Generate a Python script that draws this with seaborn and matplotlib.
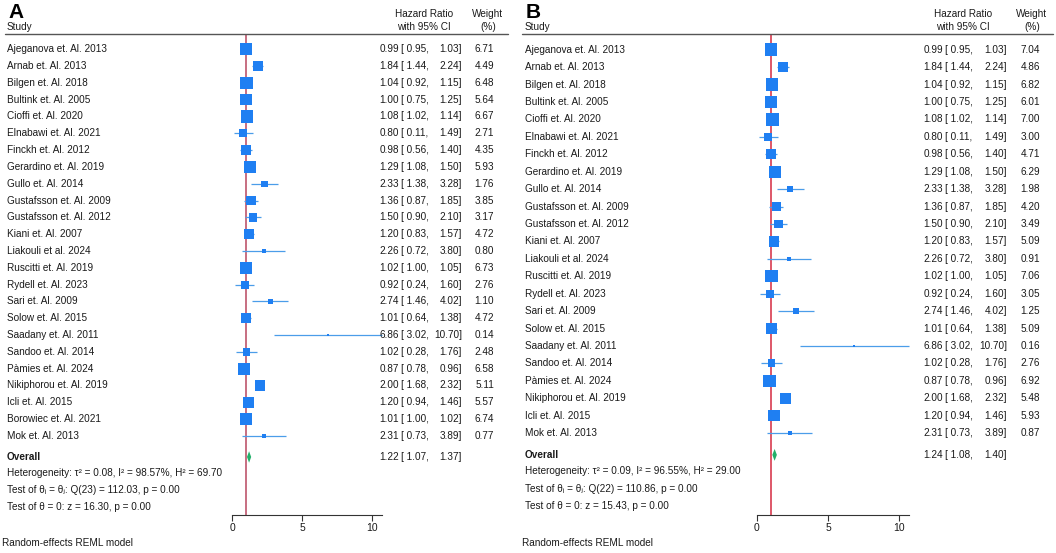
import numpy as np
import pandas as pd
import matplotlib
matplotlib.use("Agg")
import matplotlib.pyplot as plt
import matplotlib.transforms as mtransforms
import seaborn as sns

# study data
studies_a = ["Ajeganova et. Al. 2013", "Arnab et. Al. 2013", "Bilgen et. Al. 2018",
             "Bultink et. Al. 2005", "Cioffi et. Al. 2020", "Elnabawi et. Al. 2021",
             "Finckh et. Al. 2012", "Gerardino et. Al. 2019", "Gullo et. Al. 2014",
             "Gustafsson et. Al. 2009", "Gustafsson et. Al. 2012", "Kiani et. Al. 2007",
             "Liakouli et al. 2024", "Ruscitti et. Al. 2019", "Rydell et. Al. 2023",
             "Sari et. Al. 2009", "Solow et. Al. 2015", "Saadany et. Al. 2011",
             "Sandoo et. Al. 2014", "Pàmies et. Al. 2024", "Nikiphorou et. Al. 2019",
             "Icli et. Al. 2015", "Borowiec et. Al. 2021", "Mok et. Al. 2013"]
hr_a = [0.99, 1.84, 1.04, 1.00, 1.08, 0.80, 0.98, 1.29, 2.33, 1.36, 1.50, 1.20,
        2.26, 1.02, 0.92, 2.74, 1.01, 6.86, 1.02, 0.87, 2.00, 1.20, 1.01, 2.31]
lo_a = [0.95, 1.44, 0.92, 0.75, 1.02, 0.11, 0.56, 1.08, 1.38, 0.87, 0.90, 0.83,
        0.72, 1.00, 0.24, 1.46, 0.64, 3.02, 0.28, 0.78, 1.68, 0.94, 1.00, 0.73]
hi_a = [1.03, 2.24, 1.15, 1.25, 1.14, 1.49, 1.40, 1.50, 3.28, 1.85, 2.10, 1.57,
        3.80, 1.05, 1.60, 4.02, 1.38, 10.70, 1.76, 0.96, 2.32, 1.46, 1.02, 3.89]
w_a = [6.71, 4.49, 6.48, 5.64, 6.67, 2.71, 4.35, 5.93, 1.76, 3.85, 3.17, 4.72,
       0.80, 6.73, 2.76, 1.10, 4.72, 0.14, 2.48, 6.58, 5.11, 5.57, 6.74, 0.77]
overall_a = [1.22, 1.07, 1.37]
stats_a = ["Heterogeneity: τ² = 0.08, I² = 98.57%, H² = 69.70",
           "Test of θᵢ = θⱼ: Q(23) = 112.03, p = 0.00",
           "Test of θ = 0: z = 16.30, p = 0.00"]

# panel B drops Borowiec
studies_b = [s for s in studies_a if not s.startswith("Borowiec")]
hr_b = hr_a[:22] + hr_a[23:]
lo_b = lo_a[:22] + lo_a[23:]
hi_b = hi_a[:22] + hi_a[23:]
w_b = [7.04, 4.86, 6.82, 6.01, 7.00, 3.00, 4.71, 6.29, 1.98, 4.20, 3.49, 5.09,
       0.91, 7.06, 3.05, 1.25, 5.09, 0.16, 2.76, 6.92, 5.48, 5.93, 0.87]
overall_b = [1.24, 1.08, 1.40]
stats_b = ["Heterogeneity: τ² = 0.09, I² = 96.55%, H² = 29.00",
           "Test of θᵢ = θⱼ: Q(22) = 110.86, p = 0.00",
           "Test of θ = 0: z = 15.43, p = 0.00"]

sns.set_theme(style="white")
plt.rcParams["font.family"] = ["Liberation Sans", "DejaVu Sans"]

W, H = 1056, 553
fig = plt.figure(figsize=(W / 100, H / 100), dpi=100)

FS = 7.2
TXT = "#1a1a1a"
SQ_COLOR = "#1f7ff2"
CI_COLOR = "#4b9de9"
DIA_COLOR = "#22b06a"


def draw_panel(letter, left, width, studies, hr, lo, hi, w, overall, stats, lay):
    top_px, bot_px = 34, 515
    ax = fig.add_axes([left / W, 1 - bot_px / H, width / W, (bot_px - top_px) / H])
    n = len(studies)
    df = pd.DataFrame({"study": studies, "hr": hr, "lo": lo, "hi": hi, "weight": w,
                       "row": np.arange(n)})

    # confidence interval lines
    ax.hlines(df["row"], df["lo"], df["hi"], color=CI_COLOR, lw=0.9, zorder=2)

    # weight squares, area proportional to weight
    smax = 80
    sns.scatterplot(data=df, x="hr", y="row", size="weight",
                    sizes=(smax * df.weight.min() / df.weight.max(), smax),
                    marker="s", color=SQ_COLOR, linewidth=0, legend=False,
                    ax=ax, zorder=3)

    # overall diamond
    est, olo, ohi = overall
    oy = n + 0.25
    ax.fill([olo, est, ohi, est], [oy, oy - 0.34, oy, oy + 0.34],
            color=DIA_COLOR, lw=0, zorder=3)

    # null line
    ax.axvline(1, color=lay["red"], lw=1.1, zorder=1)

    unit = lay["unit"]
    zero = lay["zero"]
    ax.set_xlim(-zero / unit, (width - zero) / unit)
    ax.set_ylim(n + 3.7, -0.9)

    for s in ["top", "right", "left"]:
        ax.spines[s].set_visible(False)
    ax.spines["bottom"].set_bounds(0, df.hi.max())
    ax.spines["bottom"].set_color("#333333")
    ax.spines["bottom"].set_linewidth(0.8)
    ax.set_xticks([0, 5, 10])
    ax.set_xticklabels(["0", "5", "10"])
    ax.tick_params(axis="x", bottom=True, length=4, width=0.8, color="#333333",
                   labelsize=FS + 0.3, labelcolor=TXT, pad=2)
    ax.set_yticks([])
    ax.set_xlabel("")
    ax.set_ylabel("")

    tr = mtransforms.blended_transform_factory(ax.transAxes, ax.transData)

    def fx(px):
        return px / width

    # study rows
    for i, row in df.iterrows():
        ax.text(fx(lay["study"]), i, row["study"], transform=tr, fontsize=FS,
                ha="left", va="center", color=TXT)
        ax.text(fx(lay["est"]), i, f"{row['hr']:.2f}", transform=tr, fontsize=FS,
                ha="right", va="center", color=TXT)
        ax.text(fx(lay["br"]), i, f"[ {row['lo']:.2f},", transform=tr, fontsize=FS,
                ha="left", va="center", color=TXT)
        ax.text(fx(lay["hi"]), i, f"{row['hi']:.2f}]", transform=tr, fontsize=FS,
                ha="right", va="center", color=TXT)
        ax.text(fx(lay["w"]), i, f"{row['weight']:.2f}", transform=tr, fontsize=FS,
                ha="right", va="center", color=TXT)

    # overall row
    ax.text(fx(lay["study"]), oy, "Overall", transform=tr, fontsize=FS,
            fontweight="bold", ha="left", va="center", color=TXT)
    ax.text(fx(lay["est"]), oy, f"{est:.2f}", transform=tr, fontsize=FS,
            ha="right", va="center", color=TXT)
    ax.text(fx(lay["br"]), oy, f"[ {olo:.2f},", transform=tr, fontsize=FS,
            ha="left", va="center", color=TXT)
    ax.text(fx(lay["hi"]), oy, f"{ohi:.2f}]", transform=tr, fontsize=FS,
            ha="right", va="center", color=TXT)

    # heterogeneity and tests
    for k, s in enumerate(stats):
        ax.text(fx(lay["study"]), n + 1.2 + k, s, transform=tr, fontsize=FS,
                ha="left", va="center", color=TXT)

    # header
    ax.axhline(-0.9, xmin=fx(lay["line"][0]), xmax=fx(lay["line"][1]),
               color="#555555", lw=1.0, clip_on=False)
    fig.text((left + lay["study"]) / W, 1 - 27 / H, "Study", fontsize=FS,
             ha="left", va="center", color=TXT)
    fig.text((left + lay["hrh"]) / W, 1 - 14 / H, "Hazard Ratio", fontsize=FS,
             ha="center", va="center", color=TXT)
    fig.text((left + lay["hrh"]) / W, 1 - 27 / H, "with 95% CI", fontsize=FS,
             ha="center", va="center", color=TXT)
    fig.text((left + lay["wh"]) / W, 1 - 14 / H, "Weight", fontsize=FS,
             ha="center", va="center", color=TXT)
    fig.text((left + lay["wh"]) / W, 1 - 27 / H, "(%)", fontsize=FS,
             ha="center", va="center", color=TXT)
    fig.text((left + lay["study"] + 1) / W, 1 - 3 / H, letter, fontsize=15,
             fontweight="bold", ha="left", va="top", color="black")
    fig.text((left + 2) / W, 1 - 543 / H, "Random-effects REML model", fontsize=FS,
             ha="left", va="center", color=TXT)
    return ax


lay_a = {"study": 7, "est": 399, "br": 401, "hi": 462, "w": 494, "hrh": 424,
         "wh": 488, "line": (5, 508), "zero": 232, "unit": 14.0, "red": "#b8475f"}
lay_b = {"study": 5, "est": 423, "br": 425, "hi": 487, "w": 520, "hrh": 443,
         "wh": 512, "line": (2, 533), "zero": 237, "unit": 14.2, "red": "#d42a40"}

draw_panel("A", 0, 520, studies_a, hr_a, lo_a, hi_a, w_a, overall_a, stats_a, lay_a)
draw_panel("B", 520, 536, studies_b, hr_b, lo_b, hi_b, w_b, overall_b, stats_b, lay_b)

plt.savefig("out.png", dpi=100)
